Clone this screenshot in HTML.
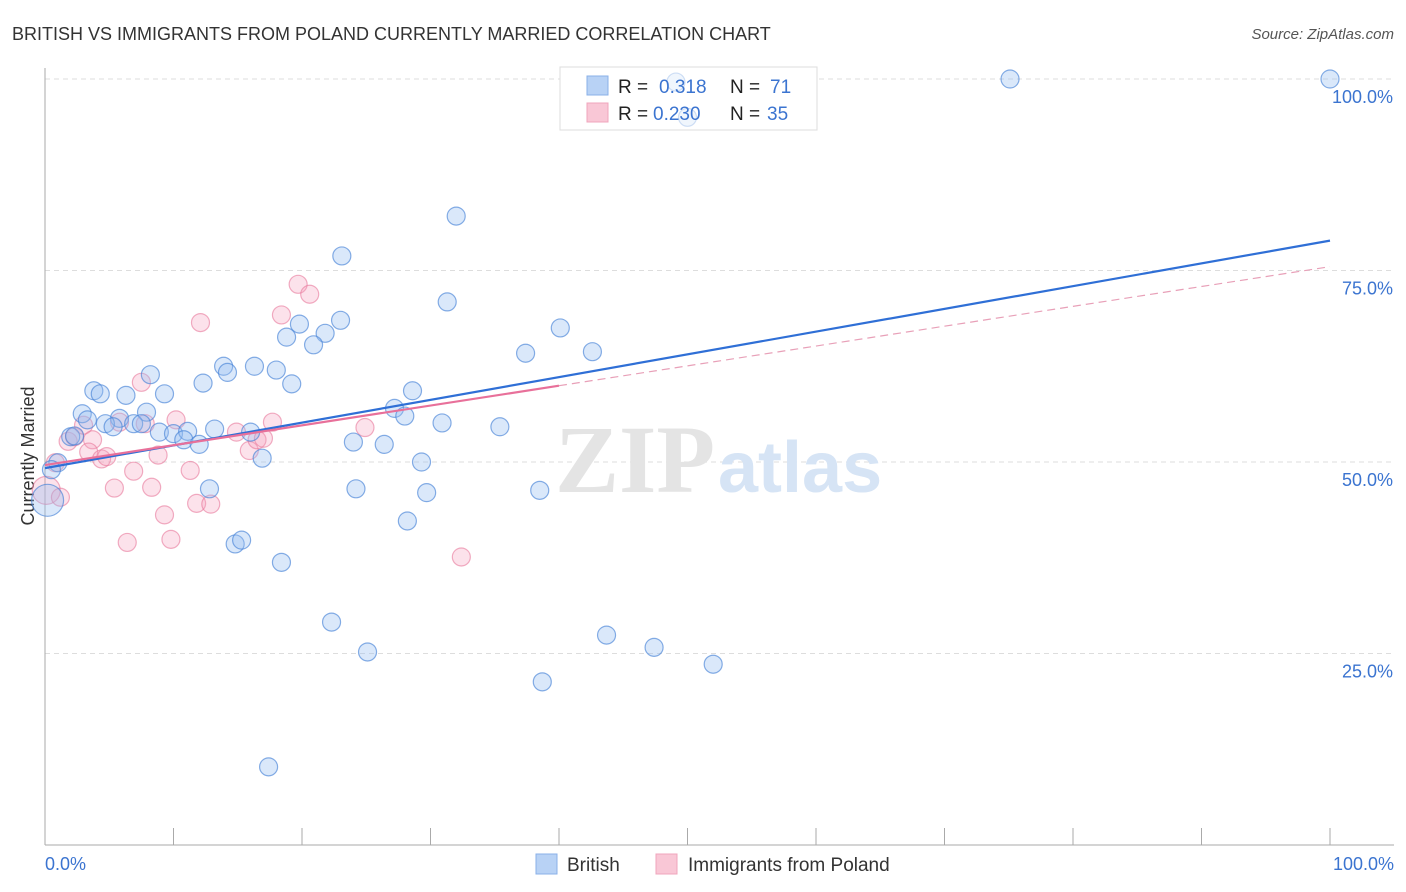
<!DOCTYPE html>
<html><head><meta charset="utf-8"><style>
body{margin:0;background:#fff;font-family:"Liberation Sans",sans-serif;}
svg{display:block}
</style></head><body>
<svg id="chart" width="1406" height="892" xmlns="http://www.w3.org/2000/svg">
<text x="12" y="40" font-size="18" fill="#333">BRITISH VS IMMIGRANTS FROM POLAND CURRENTLY MARRIED CORRELATION CHART</text>
<text x="1394" y="39" font-size="15" fill="#555" font-style="italic" text-anchor="end">Source: ZipAtlas.com</text>
<g id="grid"></g>
<g>
<text x="555" y="492" font-size="96" font-family="Liberation Serif,serif" fill="#e4e4e4" font-weight="bold">ZIP</text>
<text x="718" y="492" font-size="72" fill="#d6e4f5" font-weight="bold">atlas</text>
</g>
<line x1="45" y1="68" x2="45" y2="845" stroke="#aaa"/>
<line x1="45" y1="845" x2="1394" y2="845" stroke="#aaa"/>
<g id="ticks"></g>
<text transform="translate(34,456) rotate(-90)" font-size="18" fill="#333" text-anchor="middle">Currently Married</text>
<text x="45" y="870" font-size="18" fill="#3b74d0">0.0%</text>
<text x="1394" y="870" font-size="18" fill="#3b74d0" text-anchor="end">100.0%</text>
<g>
<rect x="560" y="67" width="257" height="63" fill="#fff" stroke="#ddd"/>
</g>
<g id="pts"></g>
<g id="lines"></g>
<g>
<rect x="560" y="67" width="257" height="63" fill="rgba(255,255,255,0.6)" stroke="#ddd"/>
<rect x="587" y="76" width="21" height="19" fill="#b8d2f5" stroke="#8ab0e8"/>
<rect x="587" y="103" width="21" height="19" fill="#f9c7d6" stroke="#f0a5bc"/>
<text x="618" y="93" font-size="19" fill="#222">R =</text>
<text x="659" y="93" font-size="19" fill="#3b74d0">0.318</text>
<text x="730" y="93" font-size="19" fill="#222">N =</text>
<text x="770" y="93" font-size="19" fill="#3b74d0">71</text>
<text x="618" y="120" font-size="19" fill="#222">R =</text>
<text x="653" y="120" font-size="19" fill="#3b74d0">0.230</text>
<text x="730" y="120" font-size="19" fill="#222">N =</text>
<text x="767" y="120" font-size="19" fill="#3b74d0">35</text>
</g>
<g>
<rect x="536" y="854" width="21" height="20" fill="#b8d2f5" stroke="#8ab0e8"/>
<text x="567" y="871" font-size="19" fill="#333">British</text>
<rect x="656" y="854" width="21" height="20" fill="#f9c7d6" stroke="#f0a5bc"/>
<text x="688" y="871" font-size="19" fill="#333">Immigrants from Poland</text>
</g>
</svg>
<script>
const yTicks=[25,50,75,100];
const yTickLabels=["25.0%","50.0%","75.0%","100.0%"];
const xTicks=[0,10,20,30,40,50,60,70,80,90,100];
const britishX=[75.1,100,49.1,50.0,32.0,23.1,31.3,23.0,19.8,21.8,18.8,20.9,40.1,37.4,42.6,13.9,16.3,14.2,18.0,12.3,19.2,8.2,3.8,4.3,6.3,9.3,28.6,2.9,3.3,7.9,27.2,28.0,5.8,4.7,5.3,6.9,7.5,30.9,35.4,8.9,10.0,11.1,13.2,16.0,10.8,12.0,2.0,2.3,24.0,26.4,16.9,29.3,1.0,0.5,0.2,12.8,24.2,29.7,38.5,28.2,14.8,15.3,18.4,22.3,25.1,43.7,47.4,52.0,38.7,17.4];
const britishY=[100,100,99.6,95.0,82.1,76.9,70.9,68.5,68.0,66.8,66.3,65.3,67.5,64.2,64.4,62.5,62.5,61.7,62.0,60.3,60.2,61.4,59.3,58.9,58.7,58.9,59.3,56.3,55.5,56.5,57.0,56.0,55.7,55.0,54.6,55.0,55.0,55.1,54.6,53.9,53.7,54.0,54.3,53.9,52.9,52.3,53.3,53.4,52.6,52.3,50.5,50.0,49.9,49.0,45.0,46.5,46.5,46.0,46.3,42.3,39.3,39.8,36.9,29.1,25.2,27.4,25.8,23.6,21.3,10.2];
const polandX=[0.1,1.2,0.8,1.8,2.3,3,3.7,3.4,4.4,4.8,5.4,6.4,5.8,6.9,7.5,7.8,8.3,8.8,9.3,9.8,10.2,11.3,11.8,12.9,12.1,14.9,15.9,16.5,17,17.7,18.4,19.7,20.6,24.9,32.4];
const polandY=[46.3,45.4,49.9,52.7,53.3,54.8,52.9,51.3,50.4,50.7,46.6,39.5,55.2,48.8,60.4,55.0,46.7,50.9,43.1,39.9,55.5,48.9,44.6,44.5,68.2,53.9,51.5,52.9,53.1,55.2,69.2,73.2,71.9,54.5,37.6];
const trendBlue=[49.2,78.9];
const trendPink=[49.6,75.5];
const X=v=>45+v*12.85, Y=v=>845-v*7.66;
const NS="http://www.w3.org/2000/svg";
function mk(tag,attrs,parent){const e=document.createElementNS(NS,tag);for(const k in attrs)e.setAttribute(k,attrs[k]);parent.appendChild(e);return e;}
const grid=document.getElementById('grid');
yTicks.forEach((t,i)=>{
 const l=mk('line',{x1:45,x2:1394,y1:Y(t),y2:Y(t),stroke:'#ddd','stroke-dasharray':'5,4'},grid);
 
 
 const tx=mk('text',{x:1393,y:Y(t)+24,'font-size':18,fill:'#3b74d0','text-anchor':'end'},grid);
 tx.textContent=yTickLabels[i];
 
 
});
const ticks=document.getElementById('ticks');
xTicks.forEach(t=>{
 const l=mk('line',{x1:X(t),x2:X(t),y1:828,y2:845,stroke:'#aaa'},ticks);
 
 
});
const pts=document.getElementById('pts');
polandX.forEach((x,i)=>{
 const c=mk('circle',{cx:X(x),cy:Y(polandY[i]),r:i==0?14:9,fill:'rgba(244,160,188,0.3)',stroke:'rgba(232,120,155,0.6)','stroke-width':1.2},pts);
 
 
});
britishX.forEach((x,i)=>{
 const big=britishX[i]<=0.3;
 const c=mk('circle',{cx:X(x),cy:Y(britishY[i]),r:big?16:9,fill:'rgba(150,190,240,0.35)',stroke:'rgba(70,130,215,0.65)','stroke-width':1.2},pts);
 
 
});
const lines=document.getElementById('lines');
const lb=mk('line',{x1:X(0),y1:Y(trendBlue[0]),x2:X(100),y2:Y(trendBlue[1]),stroke:'#2f6fd6','stroke-width':2.2},lines);


const pAt=v=>trendPink[0]+(trendPink[1]-trendPink[0])*v/100;
const lp=mk('line',{x1:X(0),y1:Y(pAt(0)),x2:X(40),y2:Y(pAt(40)),stroke:'#e8709a','stroke-width':2.2},lines);


const lpd=mk('line',{x1:X(40),y1:Y(pAt(40)),x2:X(100),y2:Y(pAt(100)),stroke:'#e8a0b8','stroke-width':1.2,'stroke-dasharray':'8,5'},lines);


</script>
</body></html>
